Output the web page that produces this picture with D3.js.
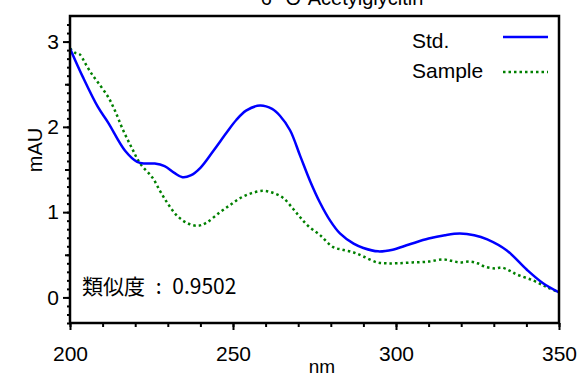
<!doctype html>
<html>
  <head>
    <meta charset="utf-8" />
    <style>
      body { margin: 0; background: #fff; }
      svg { display: block; font-family: "Liberation Sans", "Noto Sans CJK JP", sans-serif; }
      .domain { display: none; }
    </style>
  </head>
  <body>
    <div id="chart"></div>
    <script src="https://cdn.jsdelivr.net/npm/d3@7"></script>
    <script>
      var title = '6"-O-Acetylglycitin';
      var similarityLabel = "類似度 : 0.9502";
      var seriesNames = ["Std.", "Sample"];

      // Std. spectrum (nm, mAU)
      var stdNm = [200, 204, 208.6, 211.7, 216.9, 220.6, 223, 226, 229, 232, 234.5, 237, 240, 244, 248, 251, 254,
                   258.3, 262, 264.4, 267.5, 270.6, 273.7, 276.7, 279.8, 282.8, 287, 290, 294.5, 299, 304, 310, 315,
                   319.6, 324, 328, 334, 340, 345, 350];
      var stdAu = [2.92, 2.58, 2.23, 2.05, 1.72, 1.59, 1.57, 1.57, 1.54, 1.46, 1.41, 1.43, 1.52, 1.72, 1.93, 2.08, 2.19,
                   2.25, 2.21, 2.13, 1.96, 1.66, 1.36, 1.11, 0.90, 0.75, 0.63, 0.58, 0.54, 0.56, 0.62, 0.69, 0.73,
                   0.75, 0.73, 0.68, 0.55, 0.33, 0.17, 0.06];

      // Sample spectrum (nm, mAU)
      var sampleNm = [200, 201.5, 203, 204.6, 206.5, 208.6, 211.7, 213.8, 216.3, 219, 221.5, 225.2, 227.6, 230, 232.8,
                      236, 239.3, 242, 246, 249, 252, 255.5, 259.2, 262, 265.3, 268.4, 270.6, 273, 276.7, 280.7,
                      283.5, 286.8, 290, 294.2, 297, 300.3, 305, 310, 314.4, 317, 319.6, 322.7, 325, 327.3, 330.4,
                      332.5, 335, 337, 342, 346.3, 350];
      var sampleAu = [2.92, 2.87, 2.85, 2.75, 2.63, 2.52, 2.35, 2.19, 1.96, 1.75, 1.57, 1.41, 1.25, 1.10, 0.96,
                      0.87, 0.84, 0.88, 1.00, 1.08, 1.16, 1.22, 1.25, 1.23, 1.17, 1.04, 0.94, 0.84, 0.73, 0.59,
                      0.56, 0.53, 0.48, 0.41, 0.40, 0.40, 0.41, 0.42, 0.445, 0.43, 0.41, 0.42, 0.40, 0.36, 0.34,
                      0.35, 0.31, 0.27, 0.20, 0.12, 0.06];

      var xTicks = [200, 250, 300, 350];
      var yTicks = [0, 1, 2, 3];

      var width = 584, height = 376;
      var plot = {left: 70, right: 559, top: 16, bottom: 323};

      var svg = d3.select("#chart").append("svg")
                  .attr("width", width)
                  .attr("height", height);

      var x = d3.scaleLinear().domain([200, 350]).range([plot.left, plot.right]);
      var y = d3.scaleLinear().domain([-0.3, 3.3]).range([plot.bottom, plot.top]);

      // title, mostly cut off at the top (as in the source image)
      svg.append("text")
         .attr("x", 342).attr("y", 5)
         .attr("text-anchor", "middle")
         .style("font-size", "20px")
         .text(title);

      // minor ticks
      var xAxisMinor = d3.axisBottom(x).tickValues(d3.range(200, 351, 10)).tickSize(4).tickFormat("");
      svg.append("g").attr("transform", "translate(0," + plot.bottom + ")").call(xAxisMinor);
      var yAxisMinor = d3.axisLeft(y).tickValues(d3.range(-3, 33).map(function(d) { return d / 10; }))
                         .tickSize(3).tickFormat("");
      svg.append("g").attr("transform", "translate(" + plot.left + ",0)").call(yAxisMinor);
      var yAxisHalf = d3.axisLeft(y).tickValues([0.5, 1.5, 2.5]).tickSize(5).tickFormat("");
      svg.append("g").attr("transform", "translate(" + plot.left + ",0)").call(yAxisHalf);

      // major ticks
      var xAxis = d3.axisBottom(x).tickValues(xTicks).tickSize(7).tickPadding(16).tickFormat(d3.format("d"));
      svg.append("g").attr("transform", "translate(0," + plot.bottom + ")").call(xAxis);
      var yAxis = d3.axisLeft(y).tickValues(yTicks).tickSize(7).tickPadding(4).tickFormat(d3.format("d"));
      svg.append("g").attr("transform", "translate(" + plot.left + ",0)").call(yAxis);

      svg.selectAll(".tick line").attr("stroke", "#000").attr("stroke-width", 2);
      svg.selectAll(".tick text").style("font-size", "21px").attr("fill", "#000")
         .style("font-family", "'Liberation Sans', 'Noto Sans CJK JP', sans-serif");

      // axis titles
      svg.append("text")
         .attr("x", 322).attr("y", 373)
         .attr("text-anchor", "middle")
         .style("font-size", "19px")
         .text("nm");
      svg.append("text")
         .attr("transform", "translate(42,150) rotate(-90)")
         .attr("text-anchor", "middle")
         .style("font-size", "20px")
         .text("mAU");

      // curves
      var line = d3.line()
                   .x(function(d) { return x(d[0]); })
                   .y(function(d) { return y(d[1]); })
                   .curve(d3.curveCatmullRom.alpha(0.5));

      var stdData = stdNm.map(function(n, i) { return [n, stdAu[i]]; });
      var sampleData = sampleNm.map(function(n, i) { return [n, sampleAu[i]]; });

      svg.append("path")
         .datum(sampleData)
         .attr("fill", "none")
         .attr("stroke", "#008000")
         .attr("stroke-width", 2.5)
         .attr("stroke-dasharray", "2.5,3")
         .attr("d", line);

      svg.append("path")
         .datum(stdData)
         .attr("fill", "none")
         .attr("stroke", "#0000ff")
         .attr("stroke-width", 2.5)
         .attr("d", line);

      // frame
      svg.append("rect")
         .attr("x", plot.left).attr("y", plot.top)
         .attr("width", plot.right - plot.left).attr("height", plot.bottom - plot.top)
         .attr("fill", "none")
         .attr("stroke", "#000")
         .attr("stroke-width", 2.5);

      // legend
      var legend = svg.append("g");
      legend.append("text").attr("x", 412).attr("y", 48).style("font-size", "21px").text(seriesNames[0]);
      legend.append("line").attr("x1", 503).attr("x2", 548).attr("y1", 37).attr("y2", 37)
            .attr("stroke", "#0000ff").attr("stroke-width", 2.5);
      legend.append("text").attr("x", 412).attr("y", 78).style("font-size", "21px").text(seriesNames[1]);
      legend.append("line").attr("x1", 503).attr("x2", 548).attr("y1", 72).attr("y2", 72)
            .attr("stroke", "#008000").attr("stroke-width", 2.5).attr("stroke-dasharray", "2.5,3");

      // similarity note
      svg.append("text")
         .attr("x", 82).attr("y", 294)
         .style("font-size", "21px")
         .style("word-spacing", "6px")
         .style("font-family", "'Noto Sans CJK JP', sans-serif")
         .text(similarityLabel);
    </script>
  </body>
</html>
